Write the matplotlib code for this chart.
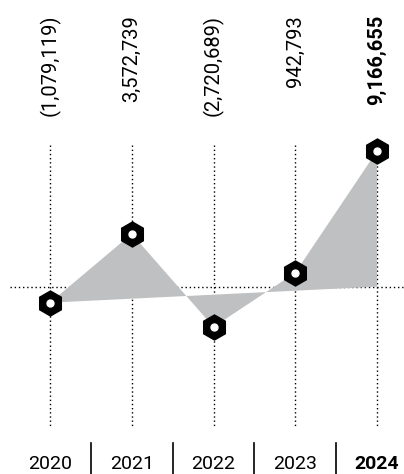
import matplotlib
matplotlib.use("Agg")
import matplotlib.pyplot as plt

years = ["2020", "2021", "2022", "2023", "2024"]
values = [-1079119, 3572739, -2720689, 942793, 9166655]
labels = ["(1,079,119)", "3,572,739", "(2,720,689)", "942,793", "9,166,655"]

plt.rcParams['font.family'] = ['Roboto', 'DejaVu Sans']

W, H = 404, 474
fig = plt.figure(figsize=(W / 100, H / 100), dpi=100)
ax = fig.add_axes([0, 0, 1, 1])
ax.set_axis_off()

px_per_unit_x = 81.75
x0_px = 50
zero_px = 286.7
px_per_val = 14.8e-6

ax.set_xlim(-x0_px / px_per_unit_x, (W - x0_px) / px_per_unit_x)
ax.set_ylim(-(H - zero_px) / px_per_val, zero_px / px_per_val)

def ypx(p):
    return (zero_px - p) / px_per_val

xs = list(range(len(years)))

# vertical dotted lines
for x in xs:
    ax.plot([x, x], [ypx(145), ypx(428)], color='black', lw=1.0,
            linestyle=(0, (1, 2)), zorder=1)
# horizontal zero line
ax.plot([-0.49, 4.33], [0, 0], color='black', lw=1.0,
        linestyle=(0, (1, 2)), zorder=1)

# fill polygon: data points + last x at zero, closed to first point
poly_x = xs + [xs[-1]]
poly_y = values + [0]
ax.fill(poly_x, poly_y, color='#bfc0c2', lw=0, zorder=2)

# markers
ax.plot(xs, values, linestyle='none', marker='h', markersize=18,
        color='black', zorder=3)
ax.plot(xs, values, linestyle='none', marker='o', markersize=5,
        color='white', zorder=4)

# value labels
for x, lab in zip(xs, labels):
    bold = (x == xs[-1])
    ax.text(x, ypx(15), lab, rotation=90, ha='center', va='top',
            fontsize=14.5, fontweight='bold' if bold else 'normal',
            color='black')

# year labels
for x, yr in zip(xs, years):
    bold = (x == xs[-1])
    ax.text(x, ypx(464), yr, ha='center', va='center', fontsize=14,
            fontweight='bold' if bold else 'normal', color='black')

# separators
for x in xs[:-1]:
    ax.plot([x + 0.5, x + 0.5], [ypx(443), ypx(474)], color='black',
            lw=1.2, zorder=1)

fig.savefig("out.png", dpi=100)
